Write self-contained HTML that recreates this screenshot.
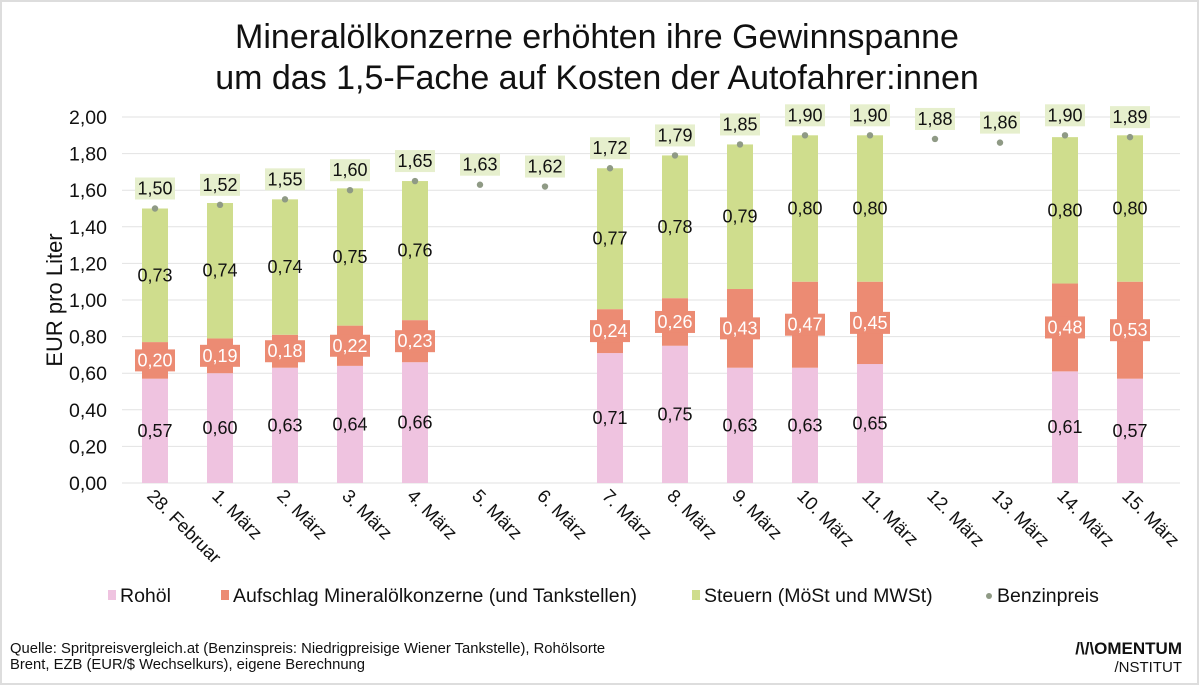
<!DOCTYPE html>
<html><head><meta charset="utf-8"><style>
body{margin:0;background:#fff;}
svg{display:block;font-family:"Liberation Sans",sans-serif;}
</style></head><body>
<svg id="c" width="1200" height="686">
<rect x="1" y="1" width="1197" height="683" fill="#fff" stroke="#ddd" stroke-width="2"/>
<text x="597" y="48" text-anchor="middle" font-size="34" fill="#111">Mineralölkonzerne erhöhten ihre Gewinnspanne</text>
<text x="597" y="89" text-anchor="middle" font-size="34" fill="#111">um das 1,5-Fache auf Kosten der Autofahrer:innen</text>
<text transform="translate(62,300) rotate(-90)" text-anchor="middle" font-size="22" fill="#111">EUR pro Liter</text>
<g id="grid"></g><g id="bars"></g><g id="labels"></g>
<g>
<rect x="108" y="590" width="8" height="10" fill="#efc3e0"/>
<text x="120" y="602" font-size="19.5" fill="#111">Rohöl</text>
<rect x="221" y="590" width="8" height="10" fill="#ec8b73"/>
<text x="233" y="602" font-size="19.5" fill="#111">Aufschlag Mineralölkonzerne (und Tankstellen)</text>
<rect x="692" y="590" width="8" height="10" fill="#cfdd8d"/>
<text x="704" y="602" font-size="19.5" fill="#111">Steuern (MöSt und MWSt)</text>
<circle cx="989" cy="596" r="3" fill="#8f9a85"/>
<text x="997" y="602" font-size="19.5" fill="#111">Benzinpreis</text>
</g>
<text x="10" y="653" font-size="14.8" fill="#111">Quelle: Spritpreisvergleich.at (Benzinspreis: Niedrigpreisige Wiener Tankstelle), Rohölsorte</text>
<text x="10" y="669" font-size="14.8" fill="#111">Brent, EZB (EUR/$ Wechselkurs), eigene Berechnung</text>
<text x="1182" y="654" text-anchor="end" font-size="17" font-weight="bold" fill="#111">/\/\OMENTUM</text>
<text x="1182" y="672" text-anchor="end" font-size="15" fill="#111">/NSTITUT</text>
</svg>
<script>
const categories=["28. Februar","1. März","2. März","3. März","4. März","5. März","6. März","7. März","8. März","9. März","10. März","11. März","12. März","13. März","14. März","15. März"];
const rohoel=[0.57,0.60,0.63,0.64,0.66,null,null,0.71,0.75,0.63,0.63,0.65,null,null,0.61,0.57];
const aufschlag=[0.20,0.19,0.18,0.22,0.23,null,null,0.24,0.26,0.43,0.47,0.45,null,null,0.48,0.53];
const steuern=[0.73,0.74,0.74,0.75,0.76,null,null,0.77,0.78,0.79,0.80,0.80,null,null,0.80,0.80];
const preis=[1.50,1.52,1.55,1.60,1.65,1.63,1.62,1.72,1.79,1.85,1.90,1.90,1.88,1.86,1.90,1.89];
const yTicks=[0,0.2,0.4,0.6,0.8,1.0,1.2,1.4,1.6,1.8,2.0];
const NS="http://www.w3.org/2000/svg";
const y=v=>483-v*183;
const x=i=>155+i*65;
const fmt=v=>v.toFixed(2).replace('.',',');
function mk(tag,attrs,parent,text){const e=document.createElementNS(NS,tag);for(const k in attrs)e.setAttribute(k,attrs[k]);if(text!=null)e.textContent=text;parent.appendChild(e);return e;}
const grid=document.getElementById('grid'),bars=document.getElementById('bars'),labels=document.getElementById('labels');
yTicks.forEach(t=>{
 const l=mk('line',{x1:122,x2:1180,y1:y(t),y2:y(t),stroke:'#e2e2e2','stroke-width':1},grid);
 
 
 const tx=mk('text',{x:107,y:y(t)+7,'text-anchor':'end','font-size':19.5,fill:'#111'},grid,fmt(t));
 
 
});
categories.forEach((c,i)=>{
 const cx=x(i);
 const t=mk('text',{transform:`translate(${cx-9},${497}) rotate(45)`,'font-size':18.5,fill:'#111'},labels,c);
 
 
 if(rohoel[i]!=null){
  const segs=[[0,rohoel[i],'#efc3e0','bar-rohoel'],[rohoel[i],rohoel[i]+aufschlag[i],'#ec8b73','bar-aufschlag'],[rohoel[i]+aufschlag[i],rohoel[i]+aufschlag[i]+steuern[i],'#cfdd8d','bar-steuern']];
  segs.forEach(s=>{
   const r=mk('rect',{x:cx-13,y:y(s[1]),width:26,height:y(s[0])-y(s[1]),fill:s[2]},bars);
   
   
  });
  const l1=mk('text',{x:cx,y:y(rohoel[i]/2)+6,'text-anchor':'middle','font-size':18,fill:'#111'},labels,fmt(rohoel[i]));
  
  
  const my=y(rohoel[i]+aufschlag[i]/2);
  const bx=mk('rect',{x:cx-20,y:my-11,width:40,height:22,fill:'#ec8b73'},labels);
  
  
  const l2=mk('text',{x:cx,y:my+6,'text-anchor':'middle','font-size':18,fill:'#fff'},labels,fmt(aufschlag[i]));
  
  
  const l3=mk('text',{x:cx,y:y(rohoel[i]+aufschlag[i]+steuern[i]/2)+6,'text-anchor':'middle','font-size':18,fill:'#111'},labels,fmt(steuern[i]));
  
  
 }
 const py=y(preis[i]);
 const d=mk('circle',{cx:cx,cy:py,r:3.2,fill:'#8f9a85'},labels);
 
 
 const pb=mk('rect',{x:cx-20,y:py-31,width:40,height:22,fill:'#e6efcd'},labels);
 
 
 const pl=mk('text',{x:cx,y:py-14,'text-anchor':'middle','font-size':18,fill:'#111'},labels,fmt(preis[i]));
 
 
});
</script>
</body></html>
